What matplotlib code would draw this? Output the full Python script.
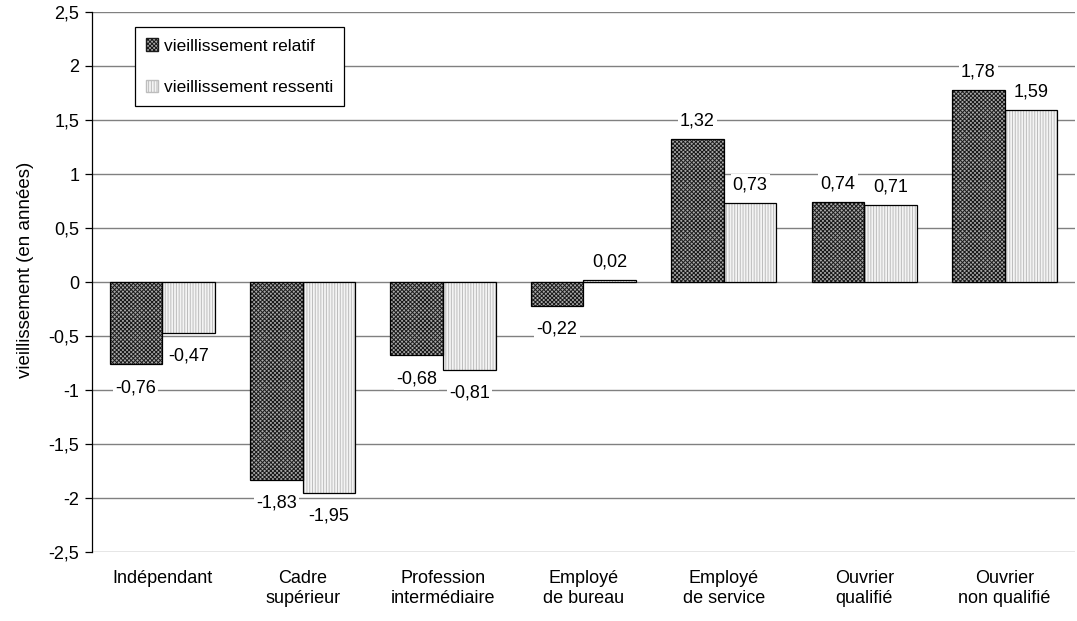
import numpy as np
import matplotlib.pyplot as plt
from matplotlib.patches import Patch

plt.rcParams['font.family'] = ['Liberation Sans', 'DejaVu Sans']
plt.rcParams['hatch.linewidth'] = 0.7

# categories socio-professionnelles
categories = ['Indépendant', 'Cadre\nsupérieur', 'Profession\nintermédiaire',
              'Employé\nde bureau', 'Employé\nde service', 'Ouvrier\nqualifié',
              'Ouvrier\nnon qualifié']
relatif = [-0.76, -1.83, -0.68, -0.22, 1.32, 0.74, 1.78]
ressenti = [-0.47, -1.95, -0.81, 0.02, 0.73, 0.71, 1.59]
yticks = [-2.5, -2, -1.5, -1, -0.5, 0, 0.5, 1, 1.5, 2, 2.5]


def fr(v):
    s = '{:g}'.format(v)
    return s.replace('.', ',')


FS = 13

fig = plt.figure(figsize=(10.77, 6.21), dpi=100)
ax = fig.add_axes([0.0854, 0.111, 0.9126, 0.8697])

x = np.arange(len(categories))
w = 0.375

rel_style = dict(facecolor='#a8a8a8', hatch='xxxxxxxx', edgecolor='#1a1a1a')
res_style = dict(facecolor='#f4f4f4', hatch='||||||', edgecolor='#bdbdbd')

# bars: fill + hatch first, then black outline on top
ax.bar(x - w / 2, relatif, w, linewidth=0, zorder=2, **rel_style)
ax.bar(x - w / 2, relatif, w, fill=False, edgecolor='black',
       linewidth=0.9, zorder=3)
ax.bar(x + w / 2, ressenti, w, linewidth=0, zorder=2, **res_style)
ax.bar(x + w / 2, ressenti, w, fill=False, edgecolor='black',
       linewidth=0.9, zorder=3)

# value labels
for xs, vals in ((x - w / 2, relatif), (x + w / 2, ressenti)):
    for xi, v in zip(xs, vals):
        off = 13 if v >= 0 else -17
        ax.annotate(fr(v), (xi, v), xytext=(0, off), textcoords='offset points',
                    ha='center', va='center', fontsize=FS,
                    bbox=dict(facecolor='white', edgecolor='none', pad=1.5),
                    zorder=4)

h1 = Patch(**rel_style)
h2 = Patch(**res_style)
leg = ax.legend([h1, h2], ['vieillissement relatif', 'vieillissement ressenti'],
                loc='upper left', bbox_to_anchor=(0.0437, 0.972),
                borderaxespad=0, fontsize=12.5,
                frameon=True, fancybox=False, framealpha=1, edgecolor='black',
                handlelength=0.7, handleheight=0.7, handletextpad=0.3,
                labelspacing=1.5, borderpad=0.65)
leg.get_frame().set_linewidth(0.9)
leg.set_zorder(5)

ax.set_xlim(-0.5, len(categories) - 0.5)
ax.set_ylim(-2.5, 2.5)
ax.set_yticks(yticks)
ax.set_yticklabels([fr(t) for t in yticks], fontsize=FS)
ax.set_xticks(x)
ax.set_xticklabels(categories, fontsize=FS)
ax.tick_params(axis='x', length=0, pad=13)
ax.tick_params(axis='y', direction='out', length=5, width=0.9, pad=4)
ax.yaxis.grid(True, color='#808080', linewidth=1)
ax.set_axisbelow(True)
for s in ('top', 'right', 'bottom'):
    ax.spines[s].set_visible(False)
ax.spines['left'].set_linewidth(0.9)
ax.set_ylabel('vieillissement (en années)', fontsize=13.5)
ax.yaxis.set_label_coords(-0.059, 0.522)

fig.savefig('out.png', dpi=100)
